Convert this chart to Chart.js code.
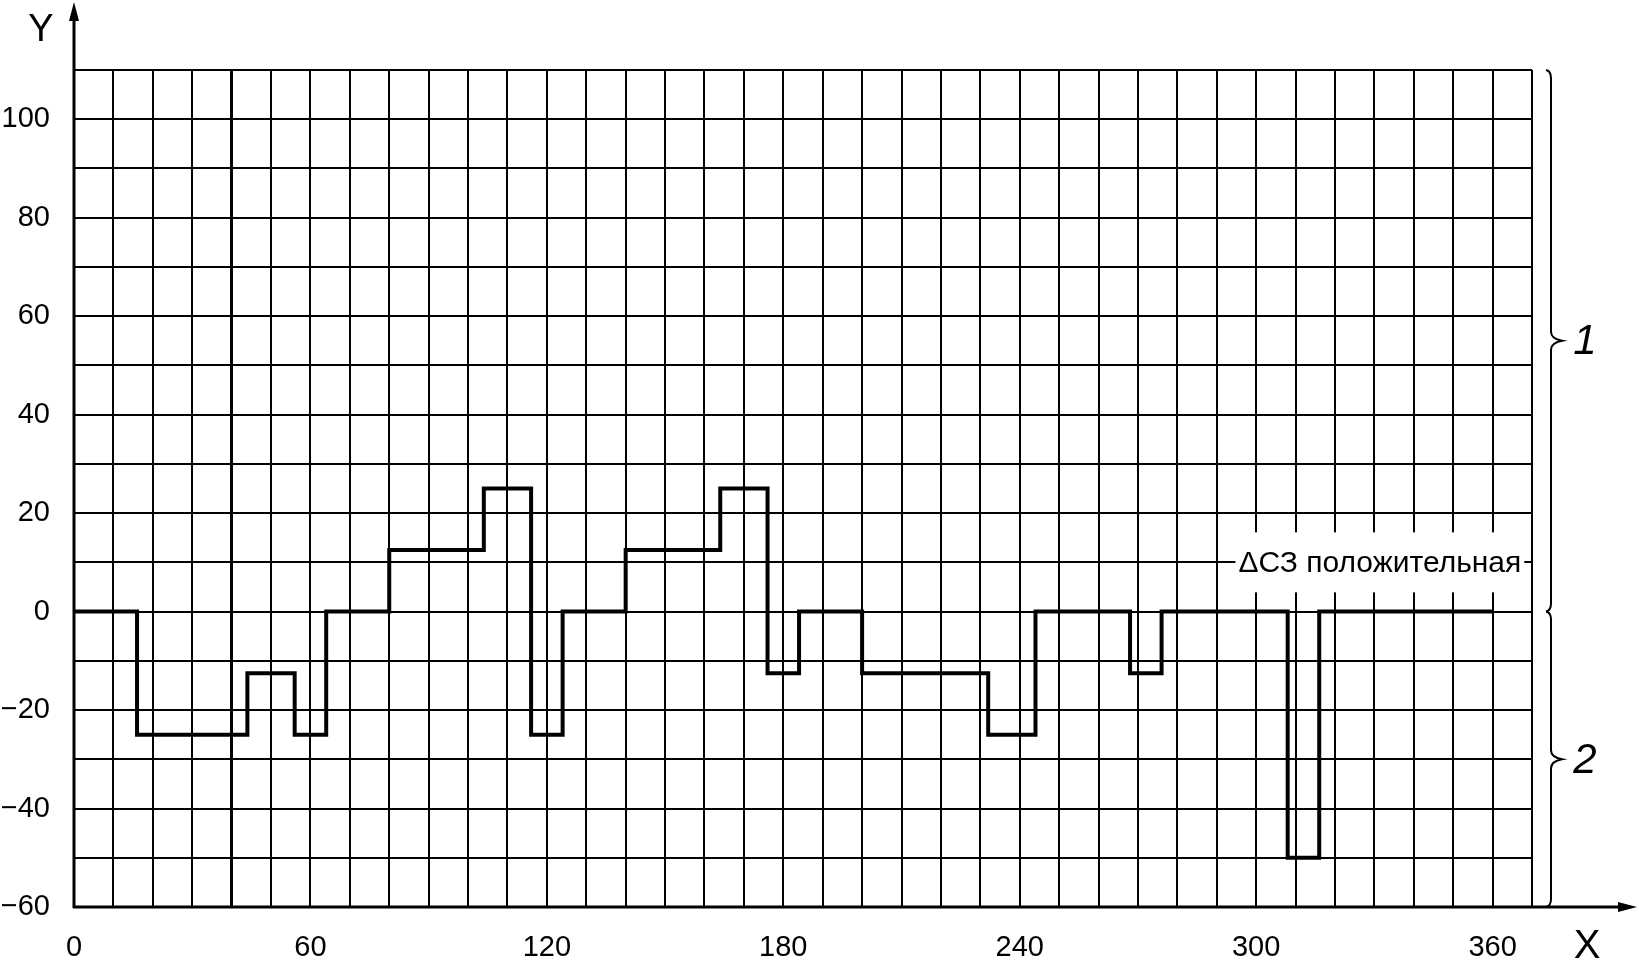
<!DOCTYPE html>
<html>
<head>
<meta charset="utf-8">
<script src="https://cdn.jsdelivr.net/npm/chart.js@4"></script>
<style>
    body { margin: 0; background: #fff; }
    #wrap { width: 1639px; height: 962px; }
</style>
</head>
<body>
<div id="wrap"><canvas id="stepChart"></canvas></div>
<script>

/* step breakpoints: value holds from this x until the next one */
const stepX = [0, 16, 44, 56, 64, 80, 104, 116, 124, 140, 164, 176, 184, 200, 232, 244, 268, 276, 308, 316, 360];
const stepY = [0, -25, -12.5, -25, 0, 12.5, 25, -25, 0, 12.5, 25, -12.5, 0, -12.5, -25, 0, -12.5, 0, -50, 0, 0];

const xTickLabels = [0, 60, 120, 180, 240, 300, 360];
const yTickLabels = [100, 80, 60, 40, 20, 0, -20, -40, -60];

const noteText = "ΔСЗ положительная";
const noteAt = { x: 295.5, y: 10 };

const braces = [
    { from: 110, to: 0, label: "1" },
    { from: 0, to: -60, label: "2" }
];

const FONT = "'Liberation Sans', Arial, sans-serif";

function fmt(v) {
    return v < 0 ? "\u2212" + Math.abs(v) : String(v);
}

const extras = {
    id: "extras",
    afterDraw(chart) {
        const ctx = chart.ctx;
        const area = chart.chartArea;
        const xs = chart.scales.x;
        const ys = chart.scales.y;
        ctx.save();
        ctx.fillStyle = "#000";
        ctx.strokeStyle = "#000";

        /* note over the y = 10 line, with a white box behind it */
        ctx.font = "30px " + FONT;
        const nx = xs.getPixelForValue(noteAt.x);
        const ny = ys.getPixelForValue(noteAt.y);
        const w = ctx.measureText(noteText).width;
        ctx.fillStyle = "#fff";
        ctx.fillRect(nx - 3, ny - 30, w + 6, 60);
        ctx.fillStyle = "#000";
        ctx.textBaseline = "middle";
        ctx.textAlign = "left";
        ctx.fillText(noteText, nx, ny + 1);

        /* axes with arrows */
        const x0 = xs.getPixelForValue(0);
        const y0 = ys.getPixelForValue(-60);
        ctx.lineWidth = 3;
        ctx.beginPath();
        ctx.moveTo(x0, y0 + 1);
        ctx.lineTo(x0, 14);
        ctx.moveTo(x0 - 1, y0);
        ctx.lineTo(1626, y0);
        ctx.stroke();
        ctx.beginPath();
        ctx.moveTo(x0, 2);
        ctx.lineTo(x0 - 5, 21);
        ctx.lineTo(x0 + 5, 21);
        ctx.closePath();
        ctx.fill();
        ctx.beginPath();
        ctx.moveTo(1637, y0);
        ctx.lineTo(1618, y0 - 5);
        ctx.lineTo(1618, y0 + 5);
        ctx.closePath();
        ctx.fill();

        /* axis names */
        ctx.font = "38px " + FONT;
        ctx.textAlign = "center";
        ctx.fillText("Y", 41, 31);
        ctx.font = "40px " + FONT;
        ctx.fillText("X", 1587, 947);

        /* braces on the right */
        const bx = area.right + 19;
        ctx.lineWidth = 2;
        braces.forEach(b => {
            const top = ys.getPixelForValue(b.from);
            const bot = ys.getPixelForValue(b.to);
            const mid = (top + bot) / 2;
            ctx.beginPath();
            ctx.moveTo(bx - 5, top);
            ctx.quadraticCurveTo(bx, top + 1, bx, top + 8);
            ctx.lineTo(bx, mid - 9);
            ctx.quadraticCurveTo(bx, mid - 2, bx + 11, mid);
            ctx.quadraticCurveTo(bx, mid + 2, bx, mid + 9);
            ctx.lineTo(bx, bot - 8);
            ctx.quadraticCurveTo(bx, bot - 1, bx - 5, bot);
            ctx.stroke();
            ctx.font = "italic 42px " + FONT;
            ctx.textAlign = "center";
            ctx.fillText(b.label, bx + 34, mid + 2);
        });

        ctx.restore();
    }
};

const points = stepX.map((x, i) => ({ x: x, y: stepY[i] }));

new Chart(document.getElementById("stepChart"), {
    type: "line",
    data: {
        datasets: [{
            data: points,
            stepped: true,
            borderColor: "#000",
            borderWidth: 4,
            borderJoinStyle: "miter",
            pointRadius: 0,
            fill: false
        }]
    },
    options: {
        responsive: true,
        maintainAspectRatio: false,
        animation: false,
        layout: {
            padding: { top: 70, right: 107, left: 0, bottom: 0 }
        },
        plugins: {
            legend: { display: false },
            tooltip: { enabled: false }
        },
        scales: {
            x: {
                type: "linear",
                min: 0,
                max: 370,
                afterFit: scale => { scale.height = 55; },
                border: { display: false },
                grid: {
                    color: "#000",
                    lineWidth: c => (c.tick && c.tick.value === 40 ? 3 : 2),
                    drawTicks: false
                },
                ticks: {
                    stepSize: 10,
                    autoSkip: false,
                    maxRotation: 0,
                    padding: 24,
                    color: "#000",
                    font: { family: FONT, size: 29 },
                    callback: v => (xTickLabels.includes(v) ? fmt(v) : "")
                }
            },
            y: {
                min: -60,
                max: 110,
                afterFit: scale => { scale.width = 74; },
                border: { display: false },
                grid: {
                    color: "#000",
                    lineWidth: 2,
                    drawTicks: false
                },
                ticks: {
                    stepSize: 10,
                    autoSkip: false,
                    padding: 24,
                    color: "#000",
                    font: { family: FONT, size: 29 },
                    callback: v => (yTickLabels.includes(v) ? fmt(v) : "")
                }
            }
        }
    },
    plugins: [extras]
});

</script>
</body>
</html>
